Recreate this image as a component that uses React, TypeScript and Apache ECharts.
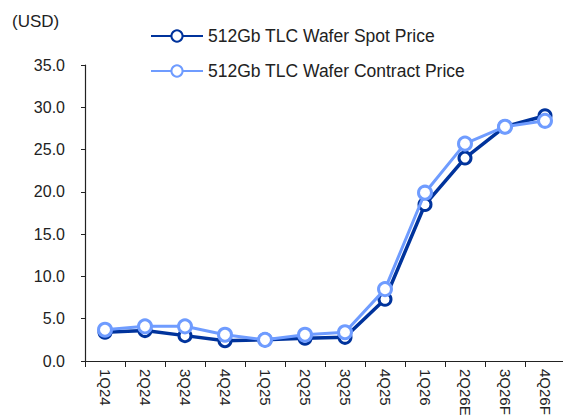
import React, { useEffect, useRef } from "react";
import * as echarts from "echarts";

const categories = ["1Q24", "2Q24", "3Q24", "4Q24", "1Q25", "2Q25", "3Q25", "4Q25", "1Q26", "2Q26E", "3Q26F", "4Q26F"];
const spotPrice = [3.4, 3.6, 3.0, 2.4, 2.5, 2.7, 2.8, 7.3, 18.5, 24.0, 27.7, 29.0];
const contractPrice = [3.7, 4.1, 4.1, 3.1, 2.5, 3.1, 3.4, 8.5, 19.9, 25.7, 27.7, 28.4];
const seriesNames = ["512Gb TLC Wafer Spot Price", "512Gb TLC Wafer Contract Price"];
const unitLabel = "(USD)";

const FONT = "'Liberation Sans', Arial, sans-serif";

export default function App() {
  const ref = useRef<HTMLDivElement>(null);
  useEffect(() => {
    if (!ref.current) return;
    const chart = echarts.init(ref.current, undefined, { renderer: "svg" });
    chart.setOption({
      animation: false,
      backgroundColor: "#fff",
      textStyle: { fontFamily: FONT },
      graphic: [
        {
          type: "text",
          left: 12,
          top: 13,
          style: { text: unitLabel, fontSize: 17, fill: "#222", fontFamily: FONT },
        },
      ],
      legend: {
        orient: "vertical",
        left: 150,
        top: 27,
        padding: 0,
        itemWidth: 52,
        itemHeight: 14,
        itemGap: 17,
        textStyle: { fontSize: 17.5, color: "#222", fontFamily: FONT },
        data: seriesNames,
      },
      grid: { left: 85, top: 65, width: 480, height: 296, outerBoundsMode: "none", containLabel: false },
      xAxis: {
        type: "category",
        data: categories,
        boundaryGap: true,
        axisLine: { lineStyle: { color: "#222", width: 1.2 } },
        axisTick: { show: true, length: 6, lineStyle: { color: "#222" } },
        axisLabel: { rotate: -90, fontSize: 15, color: "#222", margin: 8, fontFamily: FONT },
      },
      yAxis: {
        type: "value",
        min: 0,
        max: 35,
        interval: 5,
        axisLine: { show: true, lineStyle: { color: "#222", width: 1.2 } },
        axisTick: { show: true, length: 4, lineStyle: { color: "#222" } },
        splitLine: { show: false },
        axisLabel: {
          fontSize: 16,
          color: "#222",
          margin: 20,
          fontFamily: FONT,
          formatter: (v: number) => v.toFixed(1),
        },
      },
      series: [
        {
          name: seriesNames[0],
          type: "line",
          data: spotPrice,
          color: "#00339c",
          lineStyle: { width: 3.5, color: "#00339c" },
          symbol: "circle",
          symbolSize: 12,
          itemStyle: { color: "#fff", borderColor: "#00339c", borderWidth: 3 },
          z: 2,
        },
        {
          name: seriesNames[1],
          type: "line",
          data: contractPrice,
          color: "#6f9cff",
          lineStyle: { width: 3, color: "#6f9cff" },
          symbol: "circle",
          symbolSize: 13,
          itemStyle: { color: "#fff", borderColor: "#6f9cff", borderWidth: 3 },
          z: 3,
        },
      ],
    });
    return () => chart.dispose();
  }, []);
  return <div ref={ref} style={{ position: "fixed", left: 0, top: 0, width: 563, height: 418 }} />;
}
